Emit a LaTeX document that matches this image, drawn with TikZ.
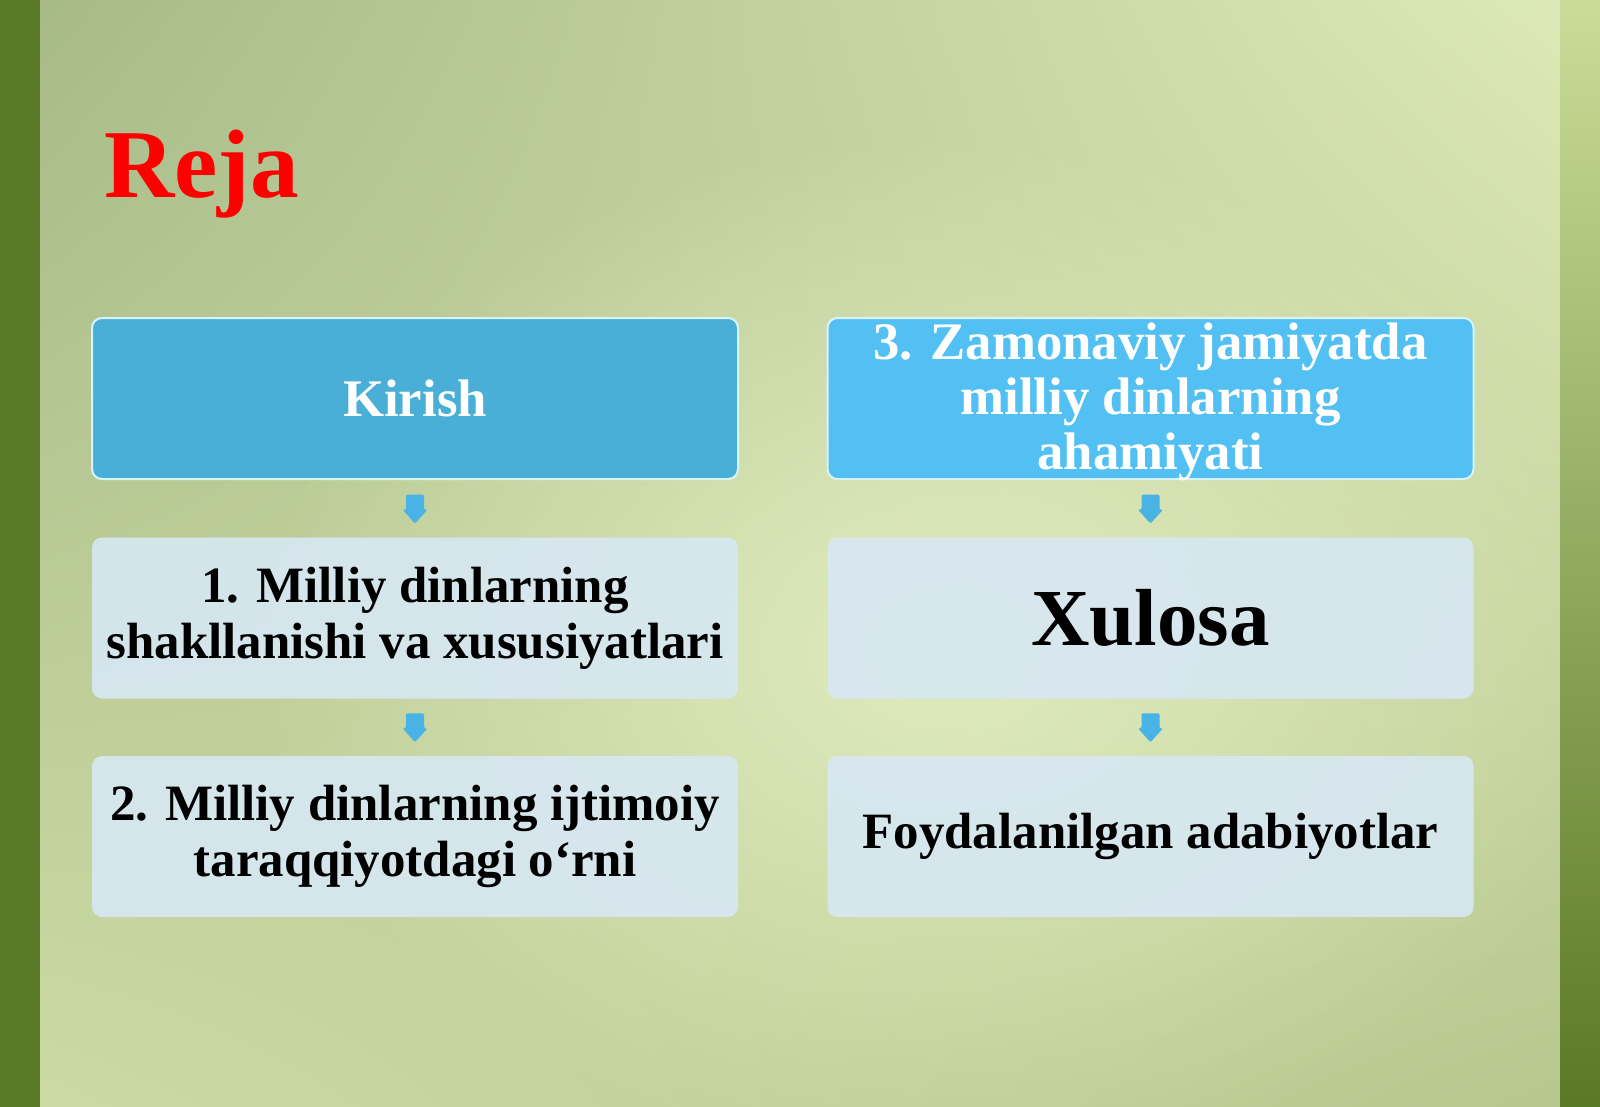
\documentclass[tikz,border=0pt]{standalone}
\usepackage{fontspec}
\setmainfont{Liberation Serif}
\usetikzlibrary{calc,fadings,shadings}
\tikzfading[name=spotfade, inner color=transparent!0, outer color=transparent!100]
\definecolor{bgA}{HTML}{A5B986}
\definecolor{bgB}{HTML}{DEEAB9}
\definecolor{bgC}{HTML}{CCDBA4}
\definecolor{bgD}{HTML}{B6C78E}
\definecolor{bgSpot}{HTML}{E3EEC2}
\definecolor{barDark}{HTML}{5A7926}
\definecolor{barLight}{HTML}{CADC98}
\definecolor{barMid}{HTML}{93AA5C}
\definecolor{boxTeal}{HTML}{4AAFD6}
\definecolor{boxSky}{HTML}{53C0F3}
\definecolor{boxPale}{HTML}{D7E8F2}
\definecolor{arrowBlue}{HTML}{4AB3E6}
\definecolor{titleRed}{HTML}{FF0000}
\tikzset{
  x=0.75pt, y=-0.75pt,
  basebox/.style={rectangle, rounded corners=7.5pt, minimum width=484.5pt,
    minimum height=120.75pt, inner sep=0pt, align=center},
  darkbox/.style={basebox, fill=#1, draw=white!85!cyan, line width=1.5pt, text=white,
    font=\bfseries\fontsize{39.6}{41}\selectfont},
  palebox/.style={basebox, fill=boxPale, fill opacity=0.92, text opacity=1, text=black,
    font=\bfseries\fontsize{38.2}{42}\selectfont},
  downarrow/.style={fill=arrowBlue, draw=none},
}
\begin{document}
\begin{tikzpicture}
\useasboundingbox (0,0) rectangle (1600,1107);
% background
\shade[upper left=bgA, upper right=bgB, lower left=bgC, lower right=bgD]
  (0,0) rectangle (1600,1107);
\fill[bgSpot, path fading=spotfade, fill opacity=0.9]
  (950,650) ellipse (700 and 520);
% side bars
\fill[barDark] (0,0) rectangle (40,1107);
\shade[top color=barLight, middle color=barMid, bottom color=barDark]
  (1560,0) rectangle (1600,1107);
% title
\node[anchor=base west, inner sep=0pt, text=titleRed,
  font=\bfseries\fontsize{73}{80}\selectfont] (title) at (104,197) {Reja};
% left column
\node[darkbox=boxTeal] (k) at (415,398.5) {Kirish};
\node[palebox] (m1) at (415,618) {1. Milliy dinlarning\\shakllanishi va xususiyatlari};
\node[palebox] (m2) at (415,836.5) {2. Milliy dinlarning ijtimoiy\\taraqqiyotdagi o‘rni};
% right column
\node[darkbox=boxSky] (z) at (1150.5,398.5) {};
\node[text=white, align=center, inner sep=0pt,
  font=\bfseries\fontsize{39.6}{41}\selectfont] (zt) at (1150.5,402)
  {3. Zamonaviy jamiyatda\\milliy dinlarning\\ahamiyati};
\node[palebox, font=\bfseries\fontsize{60.7}{66}\selectfont] (x) at (1150.5,618) {Xulosa};
\node[palebox] (f) at (1150.5,836.5) {Foydalanilgan adabiyotlar};
% arrows
\coordinate (c1) at ($(k.south)!0.5!(m1.north)$);
\coordinate (c2) at ($(m1.south)!0.5!(m2.north)$);
\coordinate (c3) at ($(z.south)!0.5!(x.north)$);
\coordinate (c4) at ($(x.south)!0.5!(f.north)$);
\foreach \c in {c1,c2,c3,c4}{
  \fill[downarrow, rounded corners=1pt]
    ([shift={(-9,-14)}]\c) -- ([shift={(9,-14)}]\c) -- ([shift={(9,1)}]\c)
    -- ([shift={(12.5,1)}]\c) -- ([shift={(0,15)}]\c) -- ([shift={(-12.5,1)}]\c)
    -- ([shift={(-9,1)}]\c) -- cycle;
}
\end{tikzpicture}
\end{document}
